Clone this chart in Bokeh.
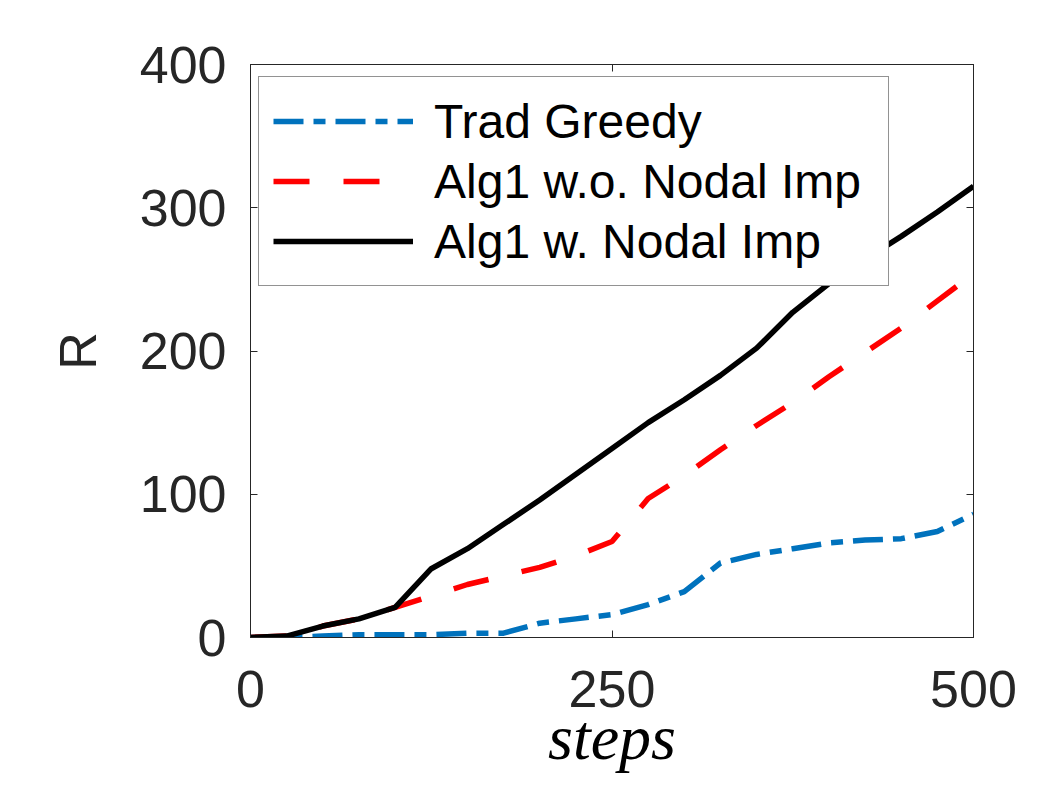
from bokeh.plotting import figure
from bokeh.models import Range1d, LinearAxis, FixedTicker, Legend, LegendItem
from bokeh.embed import file_html
from bokeh.resources import INLINE

steps = [0, 25, 50, 75, 100, 125, 150, 175, 200, 225, 250, 275, 300, 325, 350, 375, 400, 425, 450, 475, 500]
trad_greedy = [0, 0, 1, 2, 2, 2, 3, 3, 10, 13, 16, 23, 32, 52, 58, 62, 66, 68, 69, 74, 86]
alg1_wo = [0, 1, 8, 13, 21, 29, 37, 43, 49, 57, 67, 97, 113, 131, 148, 164, 182, 199, 216, 235, 254]
alg1_w = [0, 1, 8, 13, 21, 48, 62, 79, 96, 114, 132, 150, 166, 183, 202, 227, 247, 264, 280, 297, 315]

x_ticks = [0, 250, 500]
y_ticks = [0, 100, 200, 300, 400]
labels = ["Trad Greedy", "Alg1 w.o. Nodal Imp", "Alg1 w. Nodal Imp"]

AX = "#262626"
SANS = "Liberation Sans"

p = figure(width=1043, height=775, output_backend="svg", toolbar_location=None,
           x_range=Range1d(0, 500), y_range=Range1d(0, 400),
           min_border_left=250, min_border_right=70, min_border_top=64, min_border_bottom=137)
p.background_fill_color = "white"
p.border_fill_color = "white"
p.outline_line_color = AX
p.outline_line_width = 1
p.grid.visible = False

for ax, tk in ((p.xaxis[0], x_ticks), (p.yaxis[0], y_ticks)):
    ax.ticker = FixedTicker(ticks=tk)
    ax.major_tick_in = 7
    ax.major_tick_out = 0
    ax.minor_tick_line_color = None
    ax.axis_line_color = AX
    ax.major_tick_line_color = AX
    ax.major_label_text_font = SANS
    ax.major_label_text_font_size = "52px"
    ax.major_label_text_color = AX

p.xaxis[0].major_label_standoff = 33
p.xaxis[0].axis_label = "steps"
p.xaxis[0].axis_label_text_font = "Liberation Serif"
p.xaxis[0].axis_label_text_font_size = "64px"
p.xaxis[0].axis_label_text_font_style = "italic"
p.xaxis[0].axis_label_text_color = "#000000"
p.xaxis[0].axis_label_standoff = -8

p.yaxis[0].major_label_standoff = 24
p.yaxis[0].axis_label = "R"
p.yaxis[0].axis_label_text_font = SANS
p.yaxis[0].axis_label_text_font_size = "52px"
p.yaxis[0].axis_label_text_font_style = "normal"
p.yaxis[0].axis_label_text_color = AX
p.yaxis[0].axis_label_standoff = 30

for side, tk in (("right", y_ticks), ("above", x_ticks)):
    a = LinearAxis(ticker=FixedTicker(ticks=tk), major_tick_in=7, major_tick_out=0,
                   minor_tick_line_color=None, axis_line_color=AX, major_tick_line_color=AX,
                   major_label_text_font_size="1px", major_label_text_alpha=0,
                   major_label_standoff=0)
    p.add_layout(a, side)

r1 = p.line(steps, trad_greedy, line_color="#0072BD", line_width=5.5, line_dash="30 10 12 10")
r2 = p.line(steps, alg1_wo, line_color="#FF0000", line_width=5.5, line_dash="36 34")
r3 = p.line(steps, alg1_w, line_color="#000000", line_width=5.5)

legend = Legend(items=[LegendItem(label=labels[0], renderers=[r1]),
                       LegendItem(label=labels[1], renderers=[r2]),
                       LegendItem(label=labels[2], renderers=[r3])],
                location=(8, 351), margin=0, padding=14, spacing=0,
                glyph_width=140, glyph_height=60, label_height=60, label_width=440,
                label_standoff=21,
                label_text_font=SANS, label_text_font_size="48px", label_text_color="#000000",
                border_line_color=AX, border_line_width=1,
                background_fill_color="white", background_fill_alpha=1)
p.add_layout(legend, "center")

open("out.html", "w").write(file_html(p, INLINE))
